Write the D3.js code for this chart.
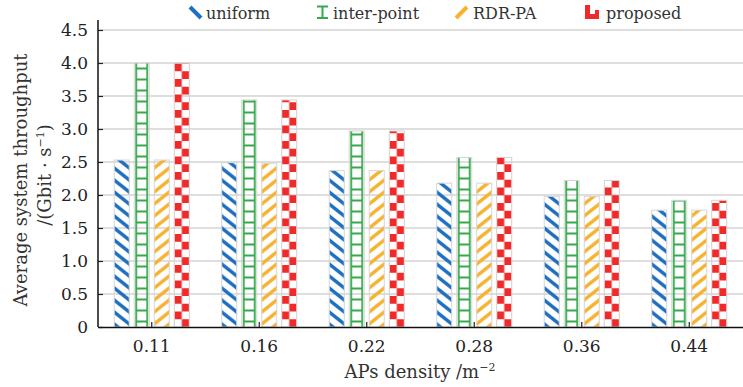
<!DOCTYPE html>
<html>
<head>
<meta charset="utf-8">
<script src="https://cdn.jsdelivr.net/npm/d3@7"></script>
<style>
  body { margin: 0; background: #fff; }
  svg { display: block; font-family: 'DejaVu Serif', serif; }
</style>
</head>
<body>
<svg id="chart" width="743" height="387"></svg>
<script>
const categories = ['0.11', '0.16', '0.22', '0.28', '0.36', '0.44'];
const seriesNames = ['uniform', 'inter-point', 'RDR-PA', 'proposed'];
const uniform = [2.53, 2.49, 2.37, 2.18, 1.98, 1.77];
const interPoint = [4.0, 3.44, 2.97, 2.57, 2.22, 1.92];
const rdrPa = [2.53, 2.48, 2.37, 2.18, 1.98, 1.77];
const proposed = [4.0, 3.44, 2.97, 2.57, 2.22, 1.92];
const yTicks = [0, 0.5, 1.0, 1.5, 2.0, 2.5, 3.0, 3.5, 4.0, 4.5];

const seriesValues = [uniform, interPoint, rdrPa, proposed];
const colors = ['#1f6fc0', '#35a94c', '#f7b22f', '#ee2a2a'];

const svg = d3.select('#chart');
const plotLeft = 98, plotRight = 743, plotTop = 30, plotBottom = 327;

const x0 = d3.scaleBand().domain(categories).range([plotLeft, plotRight]).paddingInner(0.302).paddingOuter(0.151);
const x1 = d3.scaleBand().domain(seriesNames).range([0, x0.bandwidth()]).paddingInner(0.25);
const y = d3.scaleLinear().domain([0, 4.5]).range([plotBottom, plotTop]);

// rows of bars
const bars = [];
categories.forEach((c, i) => {
  seriesNames.forEach((s, j) => {
    bars.push({ cat: c, series: s, k: j, value: seriesValues[j][i], id: `p${i}_${j}` });
  });
});

const defs = svg.append('defs');

// one pattern per bar so each tile starts at the bar's left edge
bars.forEach((d) => {
  const bx = x0(d.cat) + x1(d.series);
  const col = colors[d.k];
  let p;
  if (d.k === 0) {
    p = defs.append('pattern').attr('id', d.id).attr('patternUnits', 'userSpaceOnUse')
      .attr('x', bx).attr('y', 0).attr('width', 15).attr('height', 12);
    p.append('path').attr('d', 'M-2,-1.6 L17,13.6 M-2,-13.6 L17,1.6 M-2,10.4 L17,25.6')
      .attr('stroke', col).attr('stroke-width', 3.4).attr('fill', 'none');
  } else if (d.k === 1) {
    p = defs.append('pattern').attr('id', d.id).attr('patternUnits', 'userSpaceOnUse')
      .attr('x', bx).attr('y', plotBottom).attr('width', 15).attr('height', 11);
    p.append('path').attr('d', 'M2,0 V4 M2,7 V11 M13,0 V4 M13,7 V11 M2,5.5 H13 M2,4 V7 M13,4 V7')
      .attr('stroke', col).attr('stroke-width', 1.8).attr('fill', 'none');
  } else if (d.k === 2) {
    p = defs.append('pattern').attr('id', d.id).attr('patternUnits', 'userSpaceOnUse')
      .attr('x', bx).attr('y', 0).attr('width', 15).attr('height', 12);
    p.append('path').attr('d', 'M-2,13.6 L17,-1.6 M-2,25.6 L17,10.4 M-2,1.6 L17,-13.6')
      .attr('stroke', col).attr('stroke-width', 3.4).attr('fill', 'none');
  } else {
    p = defs.append('pattern').attr('id', d.id).attr('patternUnits', 'userSpaceOnUse')
      .attr('x', bx).attr('y', plotBottom).attr('width', 15).attr('height', 15.5);
    p.append('rect').attr('x', 0).attr('y', 0).attr('width', 7.5).attr('height', 7.75).attr('fill', col);
    p.append('rect').attr('x', 7.5).attr('y', 7.75).attr('width', 7.5).attr('height', 7.75).attr('fill', col);
  }
});

// grid lines
svg.append('g')
  .selectAll('line')
  .data(yTicks.filter((t) => t > 0))
  .enter()
  .append('line')
  .attr('x1', plotLeft).attr('x2', plotRight)
  .attr('y1', (d) => y(d)).attr('y2', (d) => y(d))
  .attr('stroke', '#d3d3d3').attr('stroke-width', 1.5);

// bars
svg.append('g')
  .selectAll('rect')
  .data(bars)
  .enter()
  .append('rect')
  .attr('x', (d) => x0(d.cat) + x1(d.series))
  .attr('y', (d) => y(d.value))
  .attr('width', x1.bandwidth())
  .attr('height', (d) => y(0) - y(d.value))
  .attr('fill', (d) => `url(#${d.id})`)
  .attr('stroke', '#d6d6d6')
  .attr('stroke-width', 1);

// y axis
const yAxis = d3.axisLeft(y).tickValues(yTicks).tickSizeInner(-5).tickSizeOuter(0).tickPadding(10)
  .tickFormat((d) => (d === 0 ? '0' : d3.format('.1f')(d)));
const gy = svg.append('g').attr('transform', `translate(${plotLeft},0)`).call(yAxis);
gy.select('.domain').remove();
gy.selectAll('.tick line').attr('stroke', '#222').attr('stroke-width', 1.2);
gy.selectAll('.tick text').attr('font-family', 'DejaVu Serif, serif').attr('font-size', 17).attr('fill', '#222');
svg.append('line').attr('x1', plotLeft).attr('x2', plotLeft).attr('y1', 20).attr('y2', plotBottom)
  .attr('stroke', '#111').attr('stroke-width', 1.5);

// x axis
const xAxis = d3.axisBottom(x0).tickSizeInner(-5).tickSizeOuter(0).tickPadding(13);
const gx = svg.append('g').attr('transform', `translate(0,${plotBottom})`).call(xAxis);
gx.select('.domain').attr('stroke', '#111').attr('stroke-width', 1.5);
gx.selectAll('.tick line').attr('stroke', '#222').attr('stroke-width', 1.2);
gx.selectAll('.tick text').attr('font-family', 'DejaVu Serif, serif').attr('font-size', 17).attr('fill', '#222');

// axis titles
const xt = svg.append('text').attr('x', 420).attr('y', 378).attr('text-anchor', 'middle')
  .attr('font-size', 18).attr('fill', '#333');
xt.append('tspan').text('APs density /m');
xt.append('tspan').attr('dy', -7).attr('font-size', 11).text('−2');

svg.append('text').attr('transform', 'translate(27,180) rotate(-90)').attr('text-anchor', 'middle')
  .attr('font-size', 18).attr('fill', '#333').text('Average system throughput');
const yt2 = svg.append('text').attr('transform', 'translate(51,175) rotate(-90)').attr('text-anchor', 'middle')
  .attr('font-size', 18).attr('fill', '#333');
yt2.append('tspan').text('/(Gbit · s');
yt2.append('tspan').attr('dy', -7).attr('font-size', 11).text('−1');
yt2.append('tspan').attr('dy', 7).text(')');

// legend
const legendX = [189, 316, 455, 585];
const legendTextX = [206, 333, 473, 606];
const lg = svg.append('g');
seriesNames.forEach((s, j) => {
  const g = lg.append('g').attr('transform', `translate(${legendX[j]},5)`);
  const col = colors[j];
  if (j === 0) {
    g.append('line').attr('x1', 1).attr('y1', 2).attr('x2', 12).attr('y2', 13)
      .attr('stroke', col).attr('stroke-width', 4);
  } else if (j === 1) {
    g.append('path').attr('d', 'M1,1.5 H12 M6.5,1.5 V13 M1,13 H12')
      .attr('stroke', col).attr('stroke-width', 2).attr('fill', 'none');
  } else if (j === 2) {
    g.append('line').attr('x1', 1).attr('y1', 13).attr('x2', 12).attr('y2', 2)
      .attr('stroke', col).attr('stroke-width', 4);
  } else {
    g.append('path').attr('d', 'M0,0 H5 V9 H10 V5 H14 V14 H0 Z').attr('fill', col);
  }
  lg.append('text').attr('x', legendTextX[j]).attr('y', 13).attr('dominant-baseline', 'central')
    .attr('font-size', 16).attr('fill', '#333').text(s);
});
</script>
</body>
</html>
